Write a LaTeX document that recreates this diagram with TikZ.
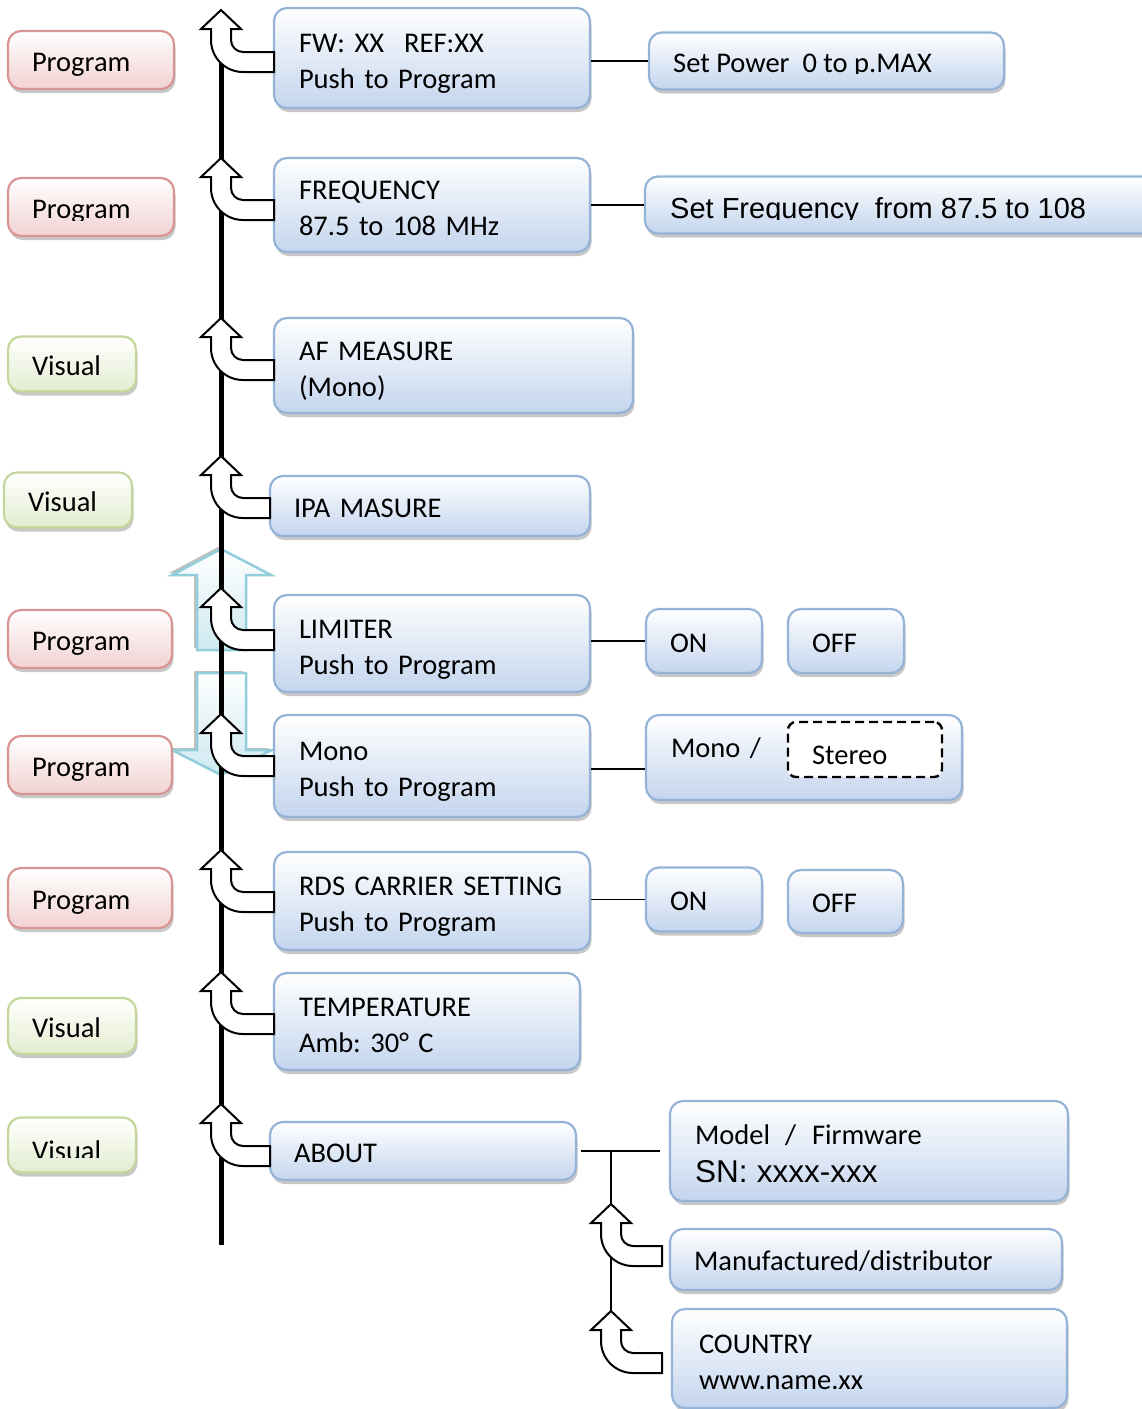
\documentclass[tikz,border=0pt]{standalone}
\usepackage{fontspec}
\setmainfont{Carlito}
\newfontfamily\arialf{Liberation Sans}
\usetikzlibrary{shadows}
\frenchspacing
\definecolor{mainborder}{HTML}{95B3D7}
\definecolor{mainfill}{HTML}{C4D5EE}
\definecolor{redborder}{HTML}{D99594}
\definecolor{redfill}{HTML}{F2D2D2}
\definecolor{greenborder}{HTML}{C3D69B}
\definecolor{greenfill}{HTML}{E3ECD0}
\definecolor{cyanline}{HTML}{92CDDC}
\definecolor{cyanfill}{HTML}{CDE9F0}
% #1 = x of the main line, #2 = y of the tail centre, #3 = x of the tail end
\newcommand{\bentarrow}[3]{%
\draw[bent] (#1,{#2-52}) -- ({#1+20},{#2-33}) -- ({#1+10},{#2-33}) -- ({#1+10},{#2-22})
 .. controls ({#1+10},{#2-15.4}) and ({#1+15.4},{#2-10}) .. ({#1+22},{#2-10})
 -- (#3,{#2-10}) -- (#3,{#2+10}) -- ({#1+22},{#2+10})
 .. controls ({#1+4.3},{#2+10}) and ({#1-10},{#2-4.3}) .. ({#1-10},{#2-22})
 -- ({#1-10},{#2-33}) -- ({#1-20},{#2-33}) -- cycle;}
\begin{document}
\begin{tikzpicture}[x=1pt,y=-1pt,
 basebox/.style={rounded corners=13pt, line width=2.2pt, align=left, inner xsep=25pt, inner ysep=0pt,
   font=\fontsize{28.5}{36}\selectfont\frenchspacing, text height=22pt, text depth=0pt,
   drop shadow={shadow xshift=1.5pt, shadow yshift=-4pt, opacity=0.22, fill=black}},
 two/.style={text height=18pt, text depth=29pt},
 bluebox/.style={basebox, draw=mainborder, top color=white, bottom color=mainfill},
 redbox/.style={basebox, inner xsep=24pt, draw=redborder, top color=white, bottom color=redfill},
 greenbox/.style={basebox, inner xsep=24pt, draw=greenborder, top color=white, bottom color=greenfill},
 dashbox/.style={rounded corners=8pt, draw=black, line width=2.4pt, dash pattern=on 9pt off 5pt, fill=white,
   align=left, inner xsep=24pt, inner ysep=0pt, font=\fontsize{28.5}{36}\selectfont, text height=29pt, text depth=0pt},
 labeltext/.style={anchor=base west, inner sep=0pt, font=\fontsize{28.5}{36}\selectfont\frenchspacing},
 bent/.style={draw=black, fill=white, line width=2pt, line join=miter},
 conn/.style={draw=black, line width=1.8pt},
 bigarrow/.style={draw=cyanline, line width=2.5pt, top color=white, bottom color=cyanfill,
   drop shadow={shadow xshift=-3pt, shadow yshift=2pt, opacity=0.25, fill=black}},
]
\useasboundingbox (0,0) rectangle (1142,1409);

% big hollow arrows
\path[bigarrow] (221,549) -- (271,575) -- (246,575) -- (246,650) -- (197,650) -- (197,575) -- (172,575) -- cycle;
\path[bigarrow] (197,673) -- (246,673) -- (246,750) -- (272,750) -- (221,775) -- (172,750) -- (197,750) -- cycle;

% main vertical line
\coordinate (ltop) at (221,12);
\coordinate (lbot) at (221,1245);
\draw[line width=5pt] (ltop) -- (lbot);

% left labels
\node[redbox, text width=118pt, minimum height=58pt] (L1) at (91,60) {Program};
\node[redbox, text width=118pt, minimum height=58pt] (L2) at (91,207) {};
\begin{scope}
\clip (0,150) rectangle (300,220);
\node[labeltext] (L2t) at (32,218.2) {Program};
\end{scope}
\node[greenbox, text width=80pt, minimum height=55pt] (L3) at (72,364) {Visual};
\node[greenbox, text width=80pt, minimum height=55pt] (L4) at (68,500) {Visual};
\node[redbox, text width=116pt, minimum height=58pt] (L5) at (90,639) {Program};
\node[redbox, text width=116pt, minimum height=58pt] (L6) at (90,765) {Program};
\node[redbox, text width=116pt, minimum height=60pt] (L7) at (90,898) {Program};
\node[greenbox, text width=80pt, minimum height=56pt] (L8) at (72,1026) {Visual};
\node[greenbox, text width=80pt, minimum height=55pt] (L9) at (72,1145) {};
\begin{scope}
\clip (0,1100) rectangle (300,1157);
\node[labeltext] (L9t) at (32,1160.4) {Visual};
\end{scope}

% main boxes
\node[bluebox, two, text width=266pt, minimum height=100pt] (M1) at (432,58) {FW: XX\hspace{20pt}REF:XX\\Push to Program};
\node[bluebox, two, text width=266pt, minimum height=94pt] (M2) at (432,205) {FREQUENCY\\87.5 to 108 MHz};
\node[bluebox, two, text width=309pt, minimum height=95pt] (M3) at (453.5,365.5) {AF MEASURE\\(Mono)};
\node[bluebox, inner xsep=24pt, text width=272pt, minimum height=60pt] (M4) at (430,506) {IPA MASURE};
\node[bluebox, two, text width=266pt, minimum height=97pt] (M5) at (432,643.5) {LIMITER\\Push to Program};
\node[bluebox, two, text width=266pt, minimum height=102pt] (M6) at (432,766) {Mono\\Push to Program};
\node[bluebox, two, text width=266pt, minimum height=98pt] (M7) at (432,901) {\mbox{RDS CARRIER SETTING}\\Push to Program};
\node[bluebox, two, text width=256pt, minimum height=97pt] (M8) at (427,1021.5) {TEMPERATURE\\Amb: 30° C};
\node[bluebox, inner xsep=24pt, text width=258pt, minimum height=58pt] (M9) at (423,1151) {ABOUT};

% right boxes
\node[bluebox, text width=305pt, minimum height=57pt] (R1) at (826.5,61) {};
\begin{scope}
\clip (600,20) rectangle (1142,73);
\node[labeltext] (R1t) at (673,72.2) {Set Power\ \ 0 to p.MAX};
\end{scope}
\node[bluebox, text width=476pt, minimum height=57pt] (R2) at (908,205) {};
\begin{scope}
\clip (600,160) rectangle (1142,219.5);
\node[labeltext, font=\arialf\fontsize{29}{36}\selectfont] (R2t) at (670,218.6) {Set Frequency\ \ from 87.5 to 108};
\end{scope}
\node[bluebox, inner xsep=24pt, text width=68pt, minimum height=64pt] (R3) at (704,641) {ON};
\node[bluebox, inner xsep=24pt, text width=68pt, minimum height=64pt] (R4) at (846,641) {OFF};
\node[bluebox, text width=266pt, minimum height=85pt, text height=18pt, text depth=18pt] (R5) at (804,757.5) {Mono /};
\node[dashbox, text width=106pt, minimum height=55pt] (D) at (865,749.5) {Stereo};
\node[bluebox, inner xsep=24pt, text width=68pt, minimum height=64pt] (R6) at (704,899.5) {ON};
\node[bluebox, inner xsep=24pt, text width=67pt, minimum height=63pt] (R7) at (845.5,901.5) {OFF};
\node[bluebox, text width=348pt, minimum height=100pt, text height=18pt, text depth=31pt] (R8) at (869,1151)
  {Model\hspace{15pt}/\hspace{16pt}Firmware\\[2pt]{\arialf\fontsize{31.5}{38}\selectfont SN: xxxx-xxx}};
\node[bluebox, inner xsep=24pt, text width=344pt, minimum height=61pt] (R9) at (866,1259.5) {Manufactured/distributor};
\node[bluebox, inner xsep=27pt, text width=341pt, minimum height=99pt, two] (R10) at (869.5,1358.5) {COUNTRY\\www.name.xx};

% connectors
\coordinate (c6) at (620,769);
\draw[conn] (M1.east |- R1.west) -- (R1.west);
\draw[conn] (M2.east |- R2.west) -- (R2.west);
\draw[conn] (M5.east |- R3.west) -- (R3.west);
\draw[conn] (M6.east |- c6) -- (R5.west |- c6);
\draw[conn] (M7.east |- R6.west) -- (R6.west);
\coordinate (aj) at (611,1151);
\coordinate (ajend) at (611,1320);
\draw[conn] ([xshift=4pt]M9.east) -- ([xshift=-9pt]R8.west);
\draw[conn] (aj) -- (ajend);

% bent arrows onto the main line
\bentarrow{221}{62}{274}
\bentarrow{221}{210}{274}
\bentarrow{221}{370}{274}
\bentarrow{221}{508}{270}
\bentarrow{221}{640}{274}
\bentarrow{221}{766}{274}
\bentarrow{221}{902}{274}
\bentarrow{221}{1024}{274}
\bentarrow{221}{1156}{270}
% bent arrows onto the ABOUT branch
\bentarrow{611}{1256}{662}
\bentarrow{611}{1363}{662}
\end{tikzpicture}
\end{document}
